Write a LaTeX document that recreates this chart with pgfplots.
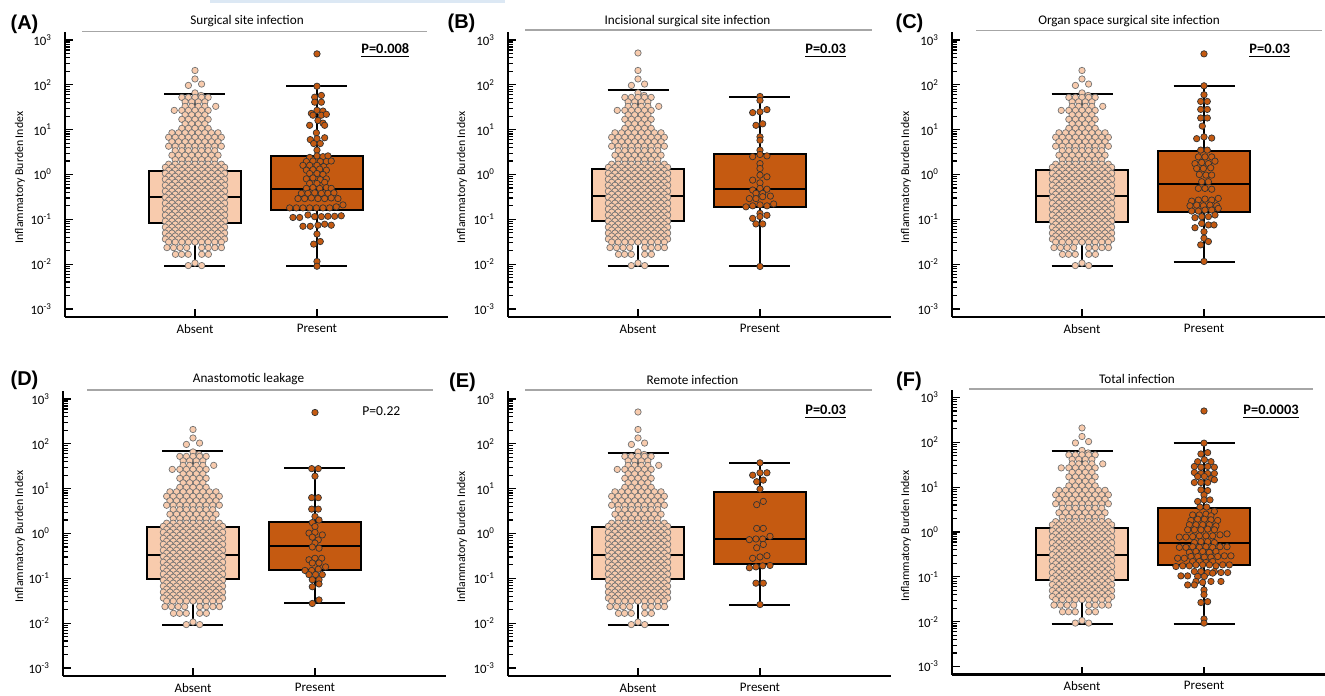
\documentclass[border=0pt]{standalone}
\usepackage{fontspec}
\setmainfont{Carlito}
\newfontfamily\arialf{Liberation Sans}
\usepackage{pgfplots}
\pgfplotsset{compat=1.18}
\usepackage{pgfplotstable}
\definecolor{absc}{HTML}{F8CBAD}
\definecolor{prec}{HTML}{C55A11}
\definecolor{tline}{HTML}{A6A6A6}
\definecolor{topbar}{HTML}{DCE8F4}

\pgfplotstableread[row sep=\\]{
x y\\
1.000 209\\ 1.000 135\\ 0.946 97\\ 1.054 104\\ 1.000 66\\ 1.050 58\\
0.892 52.5\\ 0.946 52.5\\ 1.000 52.5\\ 1.054 52.5\\ 1.108 52.5\\
0.919 41.7\\ 0.973 41.7\\ 1.027 41.7\\ 1.081 41.7\\
0.919 33.1\\ 0.973 33.1\\ 1.027 33.1\\ 1.081 33.1\\ 1.170 33.1\\
0.830 26.9\\ 0.892 26.9\\ 0.946 26.9\\ 1.000 26.9\\ 1.054 26.9\\ 1.108 26.9\\
0.919 21.4\\ 0.973 21.4\\ 1.027 21.4\\ 1.081 21.4\\
0.892 17.0\\ 0.946 17.0\\ 1.000 17.0\\ 1.054 17.0\\ 1.108 17.0\\
0.919 13.5\\ 0.973 13.5\\ 1.027 13.5\\ 1.081 13.5\\
0.892 10.7\\ 0.946 10.7\\ 1.000 10.7\\ 1.054 10.7\\ 1.108 10.7\\
0.811 8.51\\ 0.865 8.51\\ 0.919 8.51\\ 0.973 8.51\\ 1.027 8.51\\ 1.081 8.51\\ 1.135 8.51\\ 1.189 8.51\\
0.784 6.76\\ 0.838 6.76\\ 0.892 6.76\\ 0.946 6.76\\ 1.000 6.76\\ 1.054 6.76\\ 1.108 6.76\\ 1.162 6.76\\ 1.216 6.76\\
0.811 5.37\\ 0.865 5.37\\ 0.919 5.37\\ 0.973 5.37\\ 1.027 5.37\\ 1.081 5.37\\ 1.135 5.37\\ 1.189 5.37\\
0.784 4.27\\ 0.838 4.27\\ 0.892 4.27\\ 0.946 4.27\\ 1.000 4.27\\ 1.054 4.27\\ 1.108 4.27\\ 1.162 4.27\\ 1.216 4.27\\
0.838 3.39\\ 0.892 3.39\\ 0.946 3.39\\ 1.000 3.39\\ 1.054 3.39\\ 1.108 3.39\\ 1.162 3.39\\
0.811 2.69\\ 0.865 2.69\\ 0.919 2.69\\ 0.973 2.69\\ 1.027 2.69\\ 1.081 2.69\\ 1.135 2.69\\ 1.189 2.69\\
0.838 2.14\\ 0.892 2.14\\ 0.946 2.14\\ 1.000 2.14\\ 1.054 2.14\\ 1.108 2.14\\ 1.162 2.14\\
0.784 1.70\\ 0.838 1.70\\ 0.892 1.70\\ 0.946 1.70\\ 1.000 1.70\\ 1.054 1.70\\ 1.108 1.70\\ 1.162 1.70\\ 1.216 1.70\\
0.757 1.445\\ 0.811 1.445\\ 0.865 1.445\\ 0.919 1.445\\ 0.973 1.445\\ 1.027 1.445\\ 1.081 1.445\\ 1.135 1.445\\ 1.189 1.445\\ 1.243 1.445\\
0.784 1.239\\ 0.838 1.239\\ 0.892 1.239\\ 0.946 1.239\\ 1.000 1.239\\ 1.054 1.239\\ 1.108 1.239\\ 1.162 1.239\\ 1.216 1.239\\
0.757 1.064\\ 0.811 1.064\\ 0.865 1.064\\ 0.919 1.064\\ 0.973 1.064\\ 1.027 1.064\\ 1.081 1.064\\ 1.135 1.064\\ 1.189 1.064\\ 1.243 1.064\\
0.784 0.912\\ 0.838 0.912\\ 0.892 0.912\\ 0.946 0.912\\ 1.000 0.912\\ 1.054 0.912\\ 1.108 0.912\\ 1.162 0.912\\ 1.216 0.912\\
0.757 0.782\\ 0.811 0.782\\ 0.865 0.782\\ 0.919 0.782\\ 0.973 0.782\\ 1.027 0.782\\ 1.081 0.782\\ 1.135 0.782\\ 1.189 0.782\\ 1.243 0.782\\
0.784 0.671\\ 0.838 0.671\\ 0.892 0.671\\ 0.946 0.671\\ 1.000 0.671\\ 1.054 0.671\\ 1.108 0.671\\ 1.162 0.671\\ 1.216 0.671\\
0.757 0.575\\ 0.811 0.575\\ 0.865 0.575\\ 0.919 0.575\\ 0.973 0.575\\ 1.027 0.575\\ 1.081 0.575\\ 1.135 0.575\\ 1.189 0.575\\ 1.243 0.575\\
0.784 0.493\\ 0.838 0.493\\ 0.892 0.493\\ 0.946 0.493\\ 1.000 0.493\\ 1.054 0.493\\ 1.108 0.493\\ 1.162 0.493\\ 1.216 0.493\\
0.757 0.424\\ 0.811 0.424\\ 0.865 0.424\\ 0.919 0.424\\ 0.973 0.424\\ 1.027 0.424\\ 1.081 0.424\\ 1.135 0.424\\ 1.189 0.424\\ 1.243 0.424\\
0.784 0.363\\ 0.838 0.363\\ 0.892 0.363\\ 0.946 0.363\\ 1.000 0.363\\ 1.054 0.363\\ 1.108 0.363\\ 1.162 0.363\\ 1.216 0.363\\
0.757 0.311\\ 0.811 0.311\\ 0.865 0.311\\ 0.919 0.311\\ 0.973 0.311\\ 1.027 0.311\\ 1.081 0.311\\ 1.135 0.311\\ 1.189 0.311\\ 1.243 0.311\\
0.784 0.267\\ 0.838 0.267\\ 0.892 0.267\\ 0.946 0.267\\ 1.000 0.267\\ 1.054 0.267\\ 1.108 0.267\\ 1.162 0.267\\ 1.216 0.267\\
0.757 0.229\\ 0.811 0.229\\ 0.865 0.229\\ 0.919 0.229\\ 0.973 0.229\\ 1.027 0.229\\ 1.081 0.229\\ 1.135 0.229\\ 1.189 0.229\\ 1.243 0.229\\
0.784 0.196\\ 0.838 0.196\\ 0.892 0.196\\ 0.946 0.196\\ 1.000 0.196\\ 1.054 0.196\\ 1.108 0.196\\ 1.162 0.196\\ 1.216 0.196\\
0.757 0.169\\ 0.811 0.169\\ 0.865 0.169\\ 0.919 0.169\\ 0.973 0.169\\ 1.027 0.169\\ 1.081 0.169\\ 1.135 0.169\\ 1.189 0.169\\ 1.243 0.169\\
0.784 0.145\\ 0.838 0.145\\ 0.892 0.145\\ 0.946 0.145\\ 1.000 0.145\\ 1.054 0.145\\ 1.108 0.145\\ 1.162 0.145\\ 1.216 0.145\\
0.757 0.124\\ 0.811 0.124\\ 0.865 0.124\\ 0.919 0.124\\ 0.973 0.124\\ 1.027 0.124\\ 1.081 0.124\\ 1.135 0.124\\ 1.189 0.124\\ 1.243 0.124\\
0.784 0.106\\ 0.838 0.106\\ 0.892 0.106\\ 0.946 0.106\\ 1.000 0.106\\ 1.054 0.106\\ 1.108 0.106\\ 1.162 0.106\\ 1.216 0.106\\
0.757 0.0912\\ 0.811 0.0912\\ 0.865 0.0912\\ 0.919 0.0912\\ 0.973 0.0912\\ 1.027 0.0912\\ 1.081 0.0912\\ 1.135 0.0912\\ 1.189 0.0912\\ 1.243 0.0912\\
0.784 0.0782\\ 0.838 0.0782\\ 0.892 0.0782\\ 0.946 0.0782\\ 1.000 0.0782\\ 1.054 0.0782\\ 1.108 0.0782\\ 1.162 0.0782\\ 1.216 0.0782\\
0.757 0.0671\\ 0.811 0.0671\\ 0.865 0.0671\\ 0.919 0.0671\\ 0.973 0.0671\\ 1.027 0.0671\\ 1.081 0.0671\\ 1.135 0.0671\\ 1.189 0.0671\\ 1.243 0.0671\\
0.784 0.0575\\ 0.838 0.0575\\ 0.892 0.0575\\ 0.946 0.0575\\ 1.000 0.0575\\ 1.054 0.0575\\ 1.108 0.0575\\ 1.162 0.0575\\ 1.216 0.0575\\
0.757 0.0493\\ 0.811 0.0493\\ 0.865 0.0493\\ 0.919 0.0493\\ 0.973 0.0493\\ 1.027 0.0493\\ 1.081 0.0493\\ 1.135 0.0493\\ 1.189 0.0493\\ 1.243 0.0493\\
0.784 0.0424\\ 0.838 0.0424\\ 0.892 0.0424\\ 0.946 0.0424\\ 1.000 0.0424\\ 1.054 0.0424\\ 1.108 0.0424\\ 1.162 0.0424\\ 1.216 0.0424\\
0.757 0.0363\\ 0.811 0.0363\\ 0.865 0.0363\\ 0.919 0.0363\\ 0.973 0.0363\\ 1.027 0.0363\\ 1.081 0.0363\\ 1.135 0.0363\\ 1.189 0.0363\\ 1.243 0.0363\\
0.784 0.0311\\ 0.838 0.0311\\ 0.892 0.0311\\ 0.946 0.0311\\ 1.000 0.0311\\ 1.054 0.0311\\ 1.108 0.0311\\ 1.162 0.0311\\ 1.216 0.0311\\
0.770 0.0234\\ 0.824 0.0234\\ 0.878 0.0234\\ 0.932 0.0234\\ 1.055 0.0234\\ 1.109 0.0234\\ 1.163 0.0234\\ 1.217 0.0234\\
0.840 0.0166\\ 0.890 0.0166\\ 0.945 0.0166\\ 1.055 0.0166\\ 1.110 0.0166\\
0.945 0.0093\\ 1.000 0.0106\\ 1.055 0.0093\\
}\absT

\pgfplotstableread[row sep=\\]{
x y\\
2.000 93\\ 1.981 53\\ 2.036 58\\ 1.981 41\\ 2.036 41\\
1.954 23\\ 2.000 27\\ 2.049 26\\ 1.967 21\\ 2.036 21\\ 2.077 22\\
2.008 16\\ 2.049 14\\ 1.940 12.5\\ 2.063 12.5\\ 1.995 8.5\\
2.000 6.3\\ 1.945 6.0\\ 2.063 6.6\\ 1.973 4.9\\ 2.027 4.9\\ 2.000 3.5\\
1.940 2.4\\ 2.000 2.6\\ 2.049 2.5\\ 2.090 2.6\\
1.913 1.95\\ 1.967 2.0\\ 2.027 1.95\\ 2.077 1.95\\ 2.117 2.0\\
1.885 1.6\\ 1.940 1.6\\ 2.000 1.6\\ 2.055 1.5\\
1.913 1.25\\ 1.967 1.28\\ 2.022 1.32\\ 2.077 1.25\\
1.940 1.05\\ 2.000 1.05\\ 2.049 1.0\\
1.913 0.8\\ 1.967 0.84\\ 2.027 0.77\\ 2.077 0.8\\
1.940 0.63\\ 2.000 0.63\\ 2.063 0.67\\
1.913 0.49\\ 1.967 0.51\\ 2.022 0.49\\ 2.077 0.51\\ 2.117 0.49\\
1.872 0.38\\ 1.926 0.38\\ 1.981 0.39\\ 2.036 0.38\\ 2.090 0.38\\ 2.139 0.39\\
1.844 0.29\\ 1.899 0.29\\ 1.954 0.30\\ 2.008 0.29\\ 2.063 0.29\\ 2.117 0.30\\ 2.172 0.29\\
1.776 0.18\\ 1.831 0.18\\ 1.885 0.18\\ 1.940 0.18\\ 1.995 0.18\\ 2.049 0.18\\ 2.104 0.18\\ 2.158 0.19\\ 2.213 0.21\\
1.803 0.11\\ 1.858 0.11\\ 1.926 0.125\\ 1.981 0.115\\ 2.036 0.115\\ 2.090 0.117\\ 2.145 0.117\\ 2.199 0.12\\
1.885 0.07\\ 1.945 0.07\\ 2.008 0.074\\ 2.063 0.078\\ 2.117 0.074\\
2.000 0.047\\ 1.973 0.028\\ 2.027 0.032\\ 2.000 0.0115\\ 2.000 0.009\\ 2.000 490\\
}\preA

\pgfplotstableread[row sep=\\]{
x y\\
2.000 55\\ 2.000 45\\ 1.940 24\\ 2.000 25\\ 2.057 28\\
1.967 12.5\\ 2.022 13.5\\ 2.000 6.9\\ 2.000 5.8\\ 2.000 3.5\\
1.940 2.5\\ 2.057 2.6\\ 2.000 2.8\\ 2.000 1.75\\ 2.000 1.36\\
2.000 0.97\\ 2.057 0.89\\ 1.940 0.75\\ 2.000 0.65\\
2.000 0.49\\ 1.940 0.45\\ 2.057 0.47\\ 1.967 0.38\\ 2.022 0.38\\
1.913 0.29\\ 1.967 0.29\\ 2.022 0.32\\ 2.085 0.33\\ 2.112 0.22\\
1.885 0.19\\ 1.940 0.20\\ 2.000 0.21\\ 2.057 0.20\\
2.000 0.136\\ 1.940 0.105\\ 2.000 0.115\\ 2.057 0.123\\
1.967 0.079\\ 2.022 0.079\\ 2.000 0.0089\\
}\preB

\pgfplotstableread[row sep=\\]{
x y\\
2.000 95\\ 2.000 60\\ 1.973 42.6\\ 2.027 42.6\\ 1.973 28.3\\ 2.027 28.3\\
1.973 18.2\\ 2.027 18.2\\ 1.986 12\\
1.940 6.3\\ 2.000 6.9\\ 2.063 6.5\\ 1.973 3.5\\ 2.027 3.5\\
1.954 2.47\\ 2.008 2.47\\ 2.063 2.47\\
1.926 1.75\\ 1.981 1.85\\ 2.036 1.75\\ 2.090 1.98\\
1.940 1.36\\ 1.995 1.36\\ 2.055 1.41\\
1.962 1.0\\ 2.016 0.97\\ 2.063 0.97\\ 1.981 0.69\\ 2.036 0.69\\
1.954 0.49\\ 2.008 0.49\\ 2.063 0.47\\
1.899 0.255\\ 1.954 0.269\\ 2.008 0.283\\ 2.063 0.269\\ 2.117 0.293\\
1.885 0.201\\ 1.940 0.208\\ 1.995 0.201\\ 2.049 0.208\\ 2.104 0.201\\
1.899 0.153\\ 1.954 0.153\\ 2.008 0.161\\ 2.063 0.161\\ 2.117 0.175\\
1.926 0.109\\ 1.981 0.115\\ 2.036 0.115\\ 2.090 0.125\\
1.926 0.065\\ 1.981 0.081\\ 2.036 0.075\\ 2.082 0.075\\
2.000 0.053\\ 2.000 0.038\\ 2.036 0.032\\ 1.973 0.027\\ 2.000 0.0115\\ 2.000 490\\
}\preC

\pgfplotstableread[row sep=\\]{
x y\\
2.000 500\\ 1.973 28\\ 2.027 28\\ 2.000 19\\ 1.973 6.3\\ 2.027 6.3\\
1.973 3.5\\ 2.027 3.5\\ 2.000 2.4\\ 1.978 1.75\\ 2.033 2.0\\ 2.000 1.43\\
1.951 1.02\\ 2.000 1.06\\ 2.060 0.93\\ 1.978 0.83\\ 2.027 0.72\\ 2.000 0.61\\
1.978 0.50\\ 2.033 0.47\\ 1.951 0.26\\ 2.000 0.28\\ 2.055 0.28\\
1.978 0.22\\ 2.033 0.22\\ 2.087 0.18\\ 1.918 0.15\\ 1.973 0.15\\ 2.027 0.16\\
1.951 0.121\\ 2.005 0.121\\ 2.060 0.121\\ 1.978 0.093\\ 2.033 0.093\\
1.978 0.065\\ 2.033 0.075\\ 2.033 0.033\\ 1.978 0.0275\\
}\preD

\pgfplotstableread[row sep=\\]{
x y\\
2.000 37.7\\ 1.940 20\\ 2.000 22.6\\ 2.057 22.6\\ 1.973 14.3\\ 2.027 15.5\\
2.000 9.8\\ 1.973 4.4\\ 2.027 5.2\\ 1.973 1.3\\ 2.027 1.3\\
1.913 0.73\\ 1.967 0.755\\ 2.022 0.755\\ 2.082 0.865\\ 2.027 0.57\\ 1.973 0.48\\
1.940 0.28\\ 2.000 0.30\\ 2.057 0.32\\
1.913 0.172\\ 1.967 0.18\\ 2.022 0.19\\ 2.082 0.194\\
1.967 0.078\\ 2.027 0.078\\ 2.000 0.026\\
}\preE

\pgfplotstableread[row sep=\\]{
x y\\
2.000 96\\ 1.975 55\\ 2.030 59\\ 1.948 37\\ 2.003 41\\ 2.057 37\\
1.921 28.9\\ 1.975 27.9\\ 2.030 28.9\\ 2.085 27.9\\
1.921 21.2\\ 1.975 20.2\\ 2.030 20.2\\ 2.085 20.2\\
1.948 17.3\\ 2.003 17.3\\ 2.057 15.5\\ 2.085 14.6\\
1.921 12.7\\ 1.975 12.7\\ 2.030 12.7\\
1.975 8.7\\ 2.030 8.4\\ 2.000 6.7\\
1.948 4.8\\ 2.000 5.2\\ 2.049 5.2\\ 1.967 3.6\\ 2.022 3.6\\ 2.085 2.9\\
1.907 2.4\\ 1.962 2.4\\ 2.016 2.5\\ 2.057 2.3\\
1.893 1.81\\ 1.948 1.93\\ 2.003 1.93\\ 2.057 1.87\\ 2.112 1.81\\
1.880 1.45\\ 1.934 1.45\\ 1.989 1.45\\ 2.044 1.45\\ 2.098 1.37\\
1.866 1.12\\ 1.921 1.12\\ 1.975 1.12\\ 2.030 1.16\\ 2.085 1.12\\
1.798 0.77\\ 1.852 0.77\\ 1.907 0.79\\ 1.962 0.82\\ 2.016 0.82\\ 2.071 0.82\\ 2.131 0.865\\ 2.189 0.91\\
1.921 0.58\\ 1.975 0.61\\ 2.030 0.61\\ 2.085 0.58\\
1.798 0.455\\ 1.852 0.455\\ 1.907 0.47\\ 1.962 0.455\\ 2.016 0.47\\ 2.071 0.455\\ 2.131 0.47\\ 2.189 0.47\\
1.880 0.35\\ 1.934 0.367\\ 1.989 0.367\\ 2.044 0.35\\ 2.098 0.367\\
1.784 0.26\\ 1.839 0.26\\ 1.893 0.284\\ 1.948 0.284\\ 2.003 0.275\\ 2.057 0.275\\ 2.112 0.284\\ 2.167 0.294\\ 2.221 0.294\\
1.907 0.22\\ 1.962 0.22\\ 2.016 0.209\\ 2.071 0.22\\
1.770 0.17\\ 1.825 0.176\\ 1.880 0.176\\ 1.934 0.185\\ 1.989 0.185\\ 2.044 0.185\\ 2.098 0.176\\ 2.153 0.185\\ 2.208 0.185\\
1.921 0.1315\\ 1.975 0.1315\\ 2.030 0.125\\ 2.085 0.1315\\
1.811 0.105\\ 1.866 0.105\\ 1.948 0.102\\ 2.003 0.102\\ 2.071 0.121\\ 2.139 0.125\\ 2.194 0.125\\
1.934 0.079\\ 1.989 0.075\\ 2.057 0.079\\ 2.139 0.079\\
1.866 0.066\\ 1.921 0.066\\ 2.000 0.051\\ 2.000 0.040\\
1.975 0.0267\\ 2.030 0.028\\ 2.000 0.0115\\ 2.000 0.0093\\ 2.000 500\\
}\preF

% box: #1 lower whisker, #2 lower quartile, #3 median, #4 upper quartile, #5 upper whisker
\newcommand\absbox[5]{%
 \addplot[bx] coordinates {(1,#1) (1,#5)};
 \addplot[bx, fill=absc] coordinates {(0.62,#2) (1.38,#2) (1.38,#4) (0.62,#4)} -- cycle;
 \addplot[bx] coordinates {(0.62,#3) (1.38,#3)};
 \addplot[bx] coordinates {(0.75,#1) (1.25,#1)};
 \addplot[bx] coordinates {(0.75,#5) (1.25,#5)};
}
\newcommand\prebox[5]{%
 \addplot[bx] coordinates {(2,#1) (2,#5)};
 \addplot[bx, fill=prec] coordinates {(1.62,#2) (2.38,#2) (2.38,#4) (1.62,#4)} -- cycle;
 \addplot[bx] coordinates {(1.62,#3) (2.38,#3)};
 \addplot[bx] coordinates {(1.75,#1) (2.25,#1)};
 \addplot[bx] coordinates {(1.75,#5) (2.25,#5)};
}

\pgfplotsset{
  scale only axis, height=142.5pt,
  axis x line=bottom, axis y line=left,
  axis line style={-, line width=1.2pt, black},
  tick align=inside,
  xtick={1,2}, xticklabels={Absent,Present},
  ytick={1e-3,1e-2,1e-1,1,10,100,1000},
  yticklabels={10\textsuperscript{-3},10\textsuperscript{-2},10\textsuperscript{-1},10\textsuperscript{0},10\textsuperscript{1},10\textsuperscript{2},10\textsuperscript{3}},
  minor ytick={2e-3,3e-3,4e-3,5e-3,6e-3,7e-3,8e-3,9e-3,2e-2,3e-2,4e-2,5e-2,6e-2,7e-2,8e-2,9e-2,0.2,0.3,0.4,0.5,0.6,0.7,0.8,0.9,2,3,4,5,6,7,8,9,20,30,40,50,60,70,80,90,200,300,400,500,600,700,800,900},
  major tick length=3.8pt, minor tick length=2.5pt,
  tick style={black, line width=0.6pt},
  ticklabel style={font=\fontsize{6.4}{7}\selectfont},
  xticklabel style={font=\fontsize{6.5}{7}\selectfont},
  yticklabel style={xshift=-3pt},
  bx/.style={draw=black, line width=1pt, mark=none},
  absm/.style={only marks, mark=*, mark size=1.6pt, mark options={fill=absc, draw=black!55, line width=0.35pt}},
  prem/.style={only marks, mark=*, mark size=1.6pt, mark options={fill=prec, draw=black!80, line width=0.35pt}},
}

\begin{document}
\begin{tikzpicture}
\useasboundingbox (0,0) rectangle (662.5pt,347.5pt);

% (A)
\begin{axis}[ymode=log, ymin=6.637e-4, ymax=1507, xmin=-0.0656, xmax=3.074, width=191.5pt, at={(32.5pt,189pt)}, anchor=south west]
\absbox{0.009}{0.084}{0.32}{1.22}{61}
\prebox{0.0089}{0.161}{0.47}{2.6}{93}
\addplot[absm] table[x=x,y=y]{\absT};
\addplot[prem] table[x=x,y=y]{\preA};
\end{axis}

% (B)
\begin{axis}[ymode=log, ymin=6.637e-4, ymax=1507, xmin=-0.0656, xmax=3.074, width=191.5pt, at={(254pt,189pt)}, anchor=south west]
\absbox{0.009}{0.091}{0.33}{1.35}{75}
\prebox{0.0089}{0.19}{0.485}{2.8}{54}
\addplot[absm] table[x=x,y=y]{\absT};
\addplot[absm] coordinates {(1,513)};
\addplot[prem] table[x=x,y=y]{\preB};
\end{axis}

% (C)
\begin{axis}[ymode=log, ymin=6.637e-4, ymax=1507, xmin=-0.0656, xmax=2.992, width=186.5pt, at={(476pt,189pt)}, anchor=south west]
\absbox{0.0092}{0.089}{0.33}{1.25}{63}
\prebox{0.0112}{0.148}{0.62}{3.36}{95}
\addplot[absm] table[x=x,y=y]{\absT};
\addplot[prem] table[x=x,y=y]{\preC};
\end{axis}

% (D)
\begin{axis}[ymode=log, ymin=6.637e-4, ymax=1507, xmin=-0.0656, xmax=3.074, width=191.5pt, at={(31.5pt,9.5pt)}, anchor=south west]
\absbox{0.0091}{0.097}{0.336}{1.38}{71}
\prebox{0.0275}{0.151}{0.53}{1.84}{28.5}
\addplot[absm] table[x=x,y=y]{\absT};
\addplot[prem] table[x=x,y=y]{\preD};
\end{axis}

% (E)
\begin{axis}[ymode=log, ymin=6.637e-4, ymax=1507, xmin=-0.0656, xmax=3.074, width=191.5pt, at={(254pt,9.5pt)}, anchor=south west]
\absbox{0.0093}{0.098}{0.34}{1.37}{63}
\prebox{0.026}{0.204}{0.77}{8.4}{37.7}
\addplot[absm] table[x=x,y=y]{\absT};
\addplot[absm] coordinates {(1,513)};
\addplot[prem] table[x=x,y=y]{\preE};
\end{axis}

% (F)
\begin{axis}[ymode=log, ymin=6.637e-4, ymax=1507, xmin=-0.0656, xmax=2.992, width=186.5pt, at={(476pt,10.25pt)}, anchor=south west]
\absbox{0.0091}{0.086}{0.30}{1.2}{62.5}
\prebox{0.0091}{0.18}{0.58}{3.5}{96}
\addplot[absm] table[x=x,y=y]{\absT};
\addplot[prem] table[x=x,y=y]{\preF};
\end{axis}

\begin{scope}[x=0.5pt, y=-0.5pt, yshift=347.5pt]
\fill[topbar] (210,0) rectangle (505,3);
\foreach \lab/\px/\py in {A/24.5/24, B/461.5/23, C/909.5/23, D/24.5/380, E/462.5/382, F/909/381}
  \node[inner sep=0pt, font=\arialf\bfseries\fontsize{10}{12}\selectfont] at (\px,\py) {(\lab)};
\node[inner sep=0pt, font=\fontsize{6.6}{8}\selectfont] at (247,21) {Surgical site infection};
\node[inner sep=0pt, font=\fontsize{6.6}{8}\selectfont] at (687.5,20.7) {Incisional surgical site infection};
\node[inner sep=0pt, font=\fontsize{6.6}{8}\selectfont] at (1129,20.7) {Organ space surgical site infection};
\node[inner sep=0pt, font=\fontsize{6.6}{8}\selectfont] at (248.5,379.3) {Anastomotic leakage};
\node[inner sep=0pt, font=\fontsize{6.6}{8}\selectfont] at (692.5,379.7) {Remote infection};
\node[inner sep=0pt, font=\fontsize{6.6}{8}\selectfont] at (1137,379) {Total infection};
\draw[tline, line width=0.6pt] (82,31.7) -- (427,31.7);
\draw[tline, line width=0.6pt] (525,30) -- (872,30);
\draw[tline, line width=0.6pt] (976,30.7) -- (1322,30.7);
\draw[tline, line width=0.6pt] (87,390) -- (433,390);
\draw[tline, line width=0.6pt] (525,390) -- (872,390);
\draw[tline, line width=0.6pt] (969,389) -- (1313,389);
\node[anchor=west, inner sep=0pt, font=\bfseries\fontsize{7.2}{8}\selectfont] at (361,51) {\underline{P=0.008}};
\node[anchor=west, inner sep=0pt, font=\bfseries\fontsize{7.2}{8}\selectfont] at (805,51) {\underline{P=0.03}};
\node[anchor=west, inner sep=0pt, font=\bfseries\fontsize{7.2}{8}\selectfont] at (1249,51) {\underline{P=0.03}};
\node[anchor=west, inner sep=0pt, font=\fontsize{6.8}{8}\selectfont] at (362,411) {P=0.22};
\node[anchor=west, inner sep=0pt, font=\bfseries\fontsize{7.2}{8}\selectfont] at (805,412) {\underline{P=0.03}};
\node[anchor=west, inner sep=0pt, font=\bfseries\fontsize{7.2}{8}\selectfont] at (1243,412) {\underline{P=0.0003}};
\foreach \px/\py in {20/177.5, 462/177.5, 906/177.5, 20/536.5, 462/537, 906/536}
  \node[rotate=90, inner sep=0pt, font=\fontsize{5.9}{7}\selectfont] at (\px,\py) {Inflammatory Burden Index};
\end{scope}
\end{tikzpicture}
\end{document}
